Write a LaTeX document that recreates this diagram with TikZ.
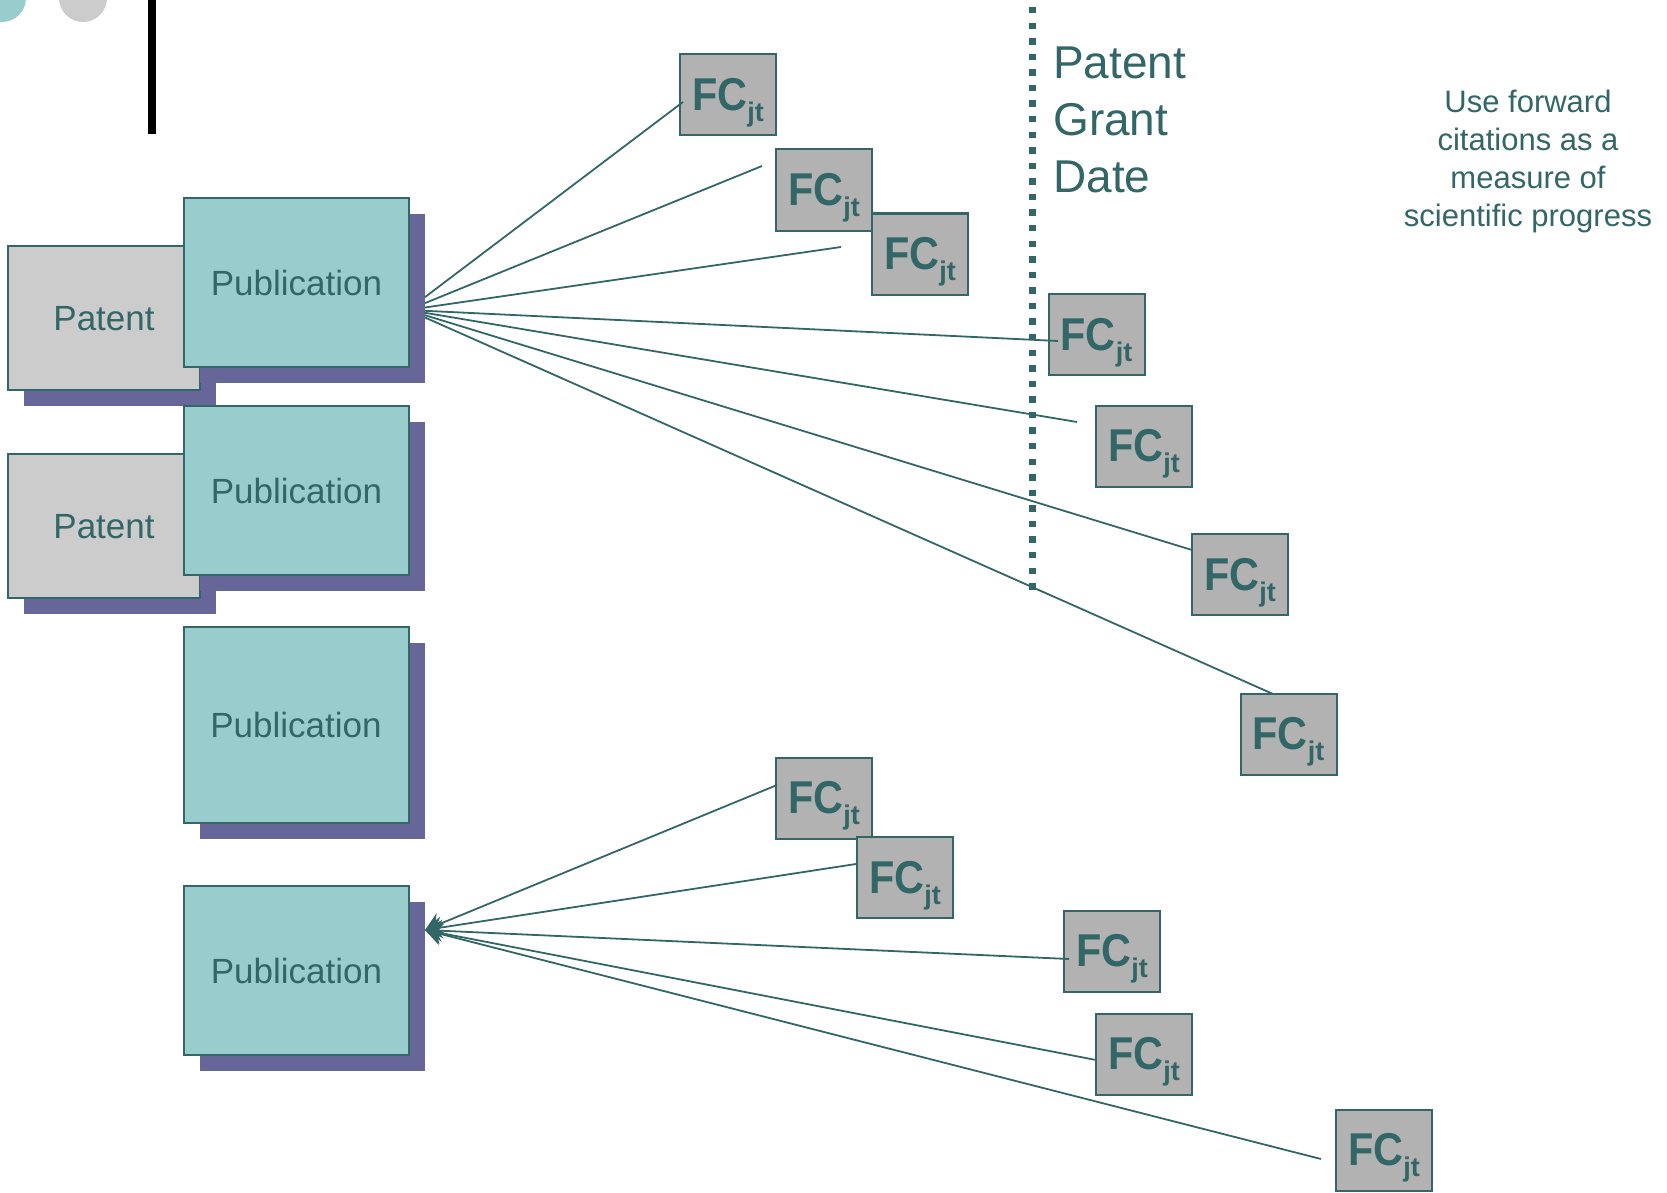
\documentclass[tikz,border=0pt]{standalone}
\usepackage{fontspec}
\setmainfont{Liberation Sans}
\usetikzlibrary{arrows.meta,shadows}
\definecolor{tealdark}{RGB}{51,102,102}
\definecolor{tealfill}{RGB}{153,204,204}
\definecolor{patfill}{RGB}{204,204,204}
\definecolor{fcfill}{RGB}{178,178,178}
\definecolor{shadowc}{RGB}{102,102,153}
\newcommand\fclabel{\scalebox{0.9}[1]{\fontsize{46}{46}\selectfont\bfseries FC}\raisebox{-11pt}[0pt][0pt]{\fontsize{27}{27}\selectfont\bfseries jt}}
\begin{document}
\begin{tikzpicture}[x=1pt,y=-1pt,
  boxbase/.style={draw=tealdark, line width=2pt, text=tealdark, inner sep=0pt,
    font=\fontsize{35}{35}\selectfont, text depth=0pt,
    drop shadow={shadow xshift=16pt, shadow yshift=-16pt, fill=shadowc, opacity=1}},
  patbox/.style={boxbase, fill=patfill, minimum width=192pt, minimum height=144pt},
  pubbox/.style={boxbase, fill=tealfill, minimum width=225pt, minimum height=169pt},
  fcbox/.style={draw=tealdark, line width=2pt, fill=fcfill, text=tealdark, inner sep=0pt,
    minimum width=96pt, minimum height=81pt},
  conn/.style={draw=tealdark, line width=1.8pt},
  tipconn/.style={conn, -{Stealth[length=17pt,width=22pt,inset=6pt]}},
  grantline/.style={draw=tealdark, line width=7pt, dash pattern=on 6.5pt off 9.07pt}
]
\useasboundingbox (0,0) rectangle (1667,1193);
\begin{scope}
  \clip (0,0) rectangle (1667,1193);
  \fill[tealfill] (2,-2) circle (24pt);
  \fill[patfill] (83,-2) circle (24pt);
\end{scope}
\fill[black] (148,0) rectangle (156,134);

% left boxes
\node[patbox] (pat1) at (104,318) {Patent};
\node[pubbox] (pub1) at (296.5,282.5) {Publication};
\node[patbox] (pat2) at (104,526) {Patent};
\node[pubbox] (pub2) at (296.5,490.5) {Publication};
\node[pubbox, minimum height=196pt] (pub3) at (296,725) {Publication};
\node[pubbox] (pub4) at (296.5,970.5) {Publication};

% forward citation boxes
\node[fcbox] (f1) at (728,94.5) {\fclabel};
\node[fcbox] (f2) at (824,190) {\fclabel};
\node[fcbox] (f3) at (920,254) {\fclabel};
\node[fcbox] (f4) at (1096.5,334.5) {\fclabel};
\node[fcbox] (f5) at (1144,446) {\fclabel};
\node[fcbox] (f6) at (1240,574.5) {\fclabel};
\node[fcbox] (f7) at (1288.5,734) {\fclabel};
\node[fcbox] (f8) at (824,798) {\fclabel};
\node[fcbox] (f9) at (905,877.5) {\fclabel};
\node[fcbox] (f10) at (1112,951) {\fclabel};
\node[fcbox] (f11) at (1144,1054) {\fclabel};
\node[fcbox] (f12) at (1384,1150) {\fclabel};

% texts
\node[anchor=north west, inner sep=0pt, align=left, text=tealdark,
  font=\fontsize{46}{57}\selectfont] (grant) at (1053,47) {Patent\\Grant\\Date};
\node[anchor=north, inner sep=0pt, align=center, text=tealdark,
  font=\fontsize{31}{38}\selectfont] (note) at (1528,90)
  {Use forward\\citations as a\\measure of\\scientific progress};

% top fan
\coordinate (s1) at (425,297.1); \coordinate (e1) at (683,102);
\coordinate (s2) at (425,303.1); \coordinate (e2) at (762,166);
\coordinate (s3) at (425,307.5); \coordinate (e3) at (841,247);
\coordinate (s4) at (425,310.8); \coordinate (e4) at (1058,341);
\coordinate (s5) at (425,312.8); \coordinate (e5) at (1077,422);
\coordinate (s6) at (425,315.2); \coordinate (e6) at (1192,550);
\coordinate (s7) at (425,317.5); \coordinate (e7) at (1273,694);
\foreach \i in {1,...,7} { \draw[conn] (s\i) -- (e\i); }

% bottom fan
\coordinate (tip) at (425,930);
\coordinate (e8) at (777,785);
\coordinate (e9) at (856,864);
\coordinate (e10) at (1069,959);
\coordinate (e11) at (1096,1060);
\coordinate (e12) at (1321,1159);
\foreach \i in {8,...,12} { \draw[tipconn] (e\i) -- (tip); }

% grant date line
\coordinate (gtop) at (1032,7);
\coordinate (gbot) at (1032,590);
\draw[grantline] (gtop) -- (gbot);
\end{tikzpicture}
\end{document}
